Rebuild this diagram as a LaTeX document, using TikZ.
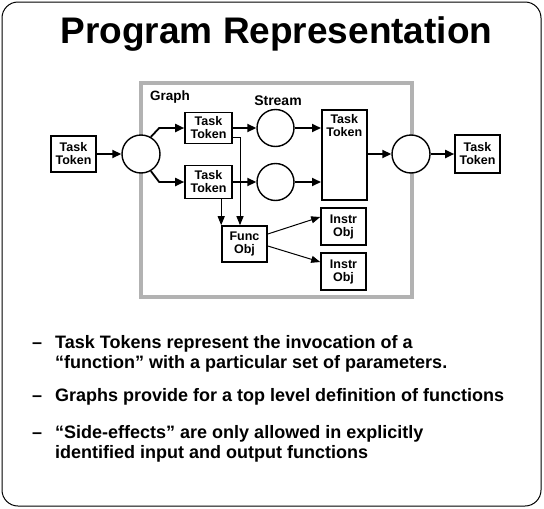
\documentclass[tikz,border=0pt]{standalone}
\usepackage{fontspec}
\setmainfont{Liberation Sans}
\usetikzlibrary{arrows.meta,calc}
\begin{document}
\begin{tikzpicture}[x=1pt,y=-1pt,
  box/.style={draw, line width=1.6pt, inner sep=0pt, font=\bfseries\fontsize{12.5}{13}\selectfont, align=center},
  circ/.style={draw, circle, line width=1.4pt, minimum size=37pt, inner sep=0pt},
  flow/.style={line width=1.8pt, -{Triangle[length=9pt,width=8pt]}},
  fine/.style={line width=1pt, -{Triangle[length=9pt,width=7pt]}},
  bullet/.style={anchor=base west, font=\bfseries\fontsize{18}{20}\selectfont, inner sep=0pt}]
\useasboundingbox (0,0) rectangle (544,509);
\draw[rounded corners=16pt, line width=1pt] (2,2) rectangle (541,506);
\node[anchor=base, inner sep=0pt, font=\bfseries\fontsize{37}{40}\selectfont] (title) at (276.5,43) {Program Representation};
% graph frame
\draw[gray!60, line width=4pt] (141,83) rectangle (412,297);
\node[anchor=base west, inner sep=0pt, font=\bfseries\fontsize{13.5}{15}\selectfont] (glabel) at (150,100.5) {Graph};
\node[anchor=base, inner sep=0pt, font=\bfseries\fontsize{14}{15}\selectfont] (slabel) at (278,105) {Stream};
% nodes
\node[box, minimum width=45pt, minimum height=36pt] (tokL) at (73.5,154) {Task\\Token};
\node[circ, fill=white, minimum size=38pt] (c1) at (141,154) {};
\node[box, minimum width=47pt, minimum height=31pt] (t1) at (208.5,128) {Task\\Token};
\node[box, minimum width=47pt, minimum height=33pt] (t2) at (208.5,182) {Task\\Token};
\node[circ] (s1) at (275.5,128) {};
\node[circ] (s2) at (275.5,182) {};
\node[box, minimum width=45pt, minimum height=90pt, anchor=north west] (big) at (321,109) {};
\node[box, draw=none, anchor=north] (bigtext) at ([yshift=-5pt]big.north) {Task\\Token};
\node[circ, fill=white, minimum size=38pt] (c2) at (411,154) {};
\node[box, minimum width=45pt, minimum height=38pt] (tokR) at (477.5,154) {Task\\Token};
\node[box, minimum width=45pt, minimum height=36pt] (func) at (244.5,244) {Func\\Obj};
\node[box, minimum width=45pt, minimum height=37pt] (i1) at (343.5,226.5) {Instr\\Obj};
\node[box, minimum width=45pt, minimum height=37pt] (i2) at (343.5,271.5) {Instr\\Obj};
% connectors
\draw[flow] (tokL) -- (c1);
\draw[flow] (c1.60) -- ($(t1.west)+(-25,0)$) -- (t1.west);
\draw[flow] (c1.-60) -- ($(t2.west)+(-25,0)$) -- (t2.west);
\draw[flow] (t1) -- (s1);
\draw[flow] (t2) -- (s2);
\draw[flow] (s1) -- (s1 -| big.west);
\draw[flow] (s2) -- (s2 -| big.west);
\draw[flow] (big.east |- c2) -- (c2);
\draw[flow] (c2) -- (tokR);
\draw[fine] (t2.south -| func.west) -- (func.north west);
\draw[fine] ([yshift=-9pt]t1.east) -| ([xshift=-4.5pt]func.north);
\draw[fine] ([yshift=10pt]func.east) -- ([yshift=9.5pt]i1.west);
\draw[fine] ([yshift=-2pt]func.east) -- ([yshift=9.5pt]i2.west);
% bullets
\node[bullet] (d1) at (32,348) {–};
\node[bullet] (b1a) at (55,348) {Task Tokens represent the invocation of a};
\node[bullet] (b1b) at (55,368) {“function” with a particular set of parameters.};
\node[bullet] (d2) at (32,401) {–};
\node[bullet] (b2) at (55,401) {Graphs provide for a top level definition of functions};
\node[bullet] (d3) at (32,438) {–};
\node[bullet] (b3a) at (55,438) {“Side-effects” are only allowed in explicitly};
\node[bullet] (b3b) at (55,458) {identified input and output functions};
\end{tikzpicture}
\end{document}
